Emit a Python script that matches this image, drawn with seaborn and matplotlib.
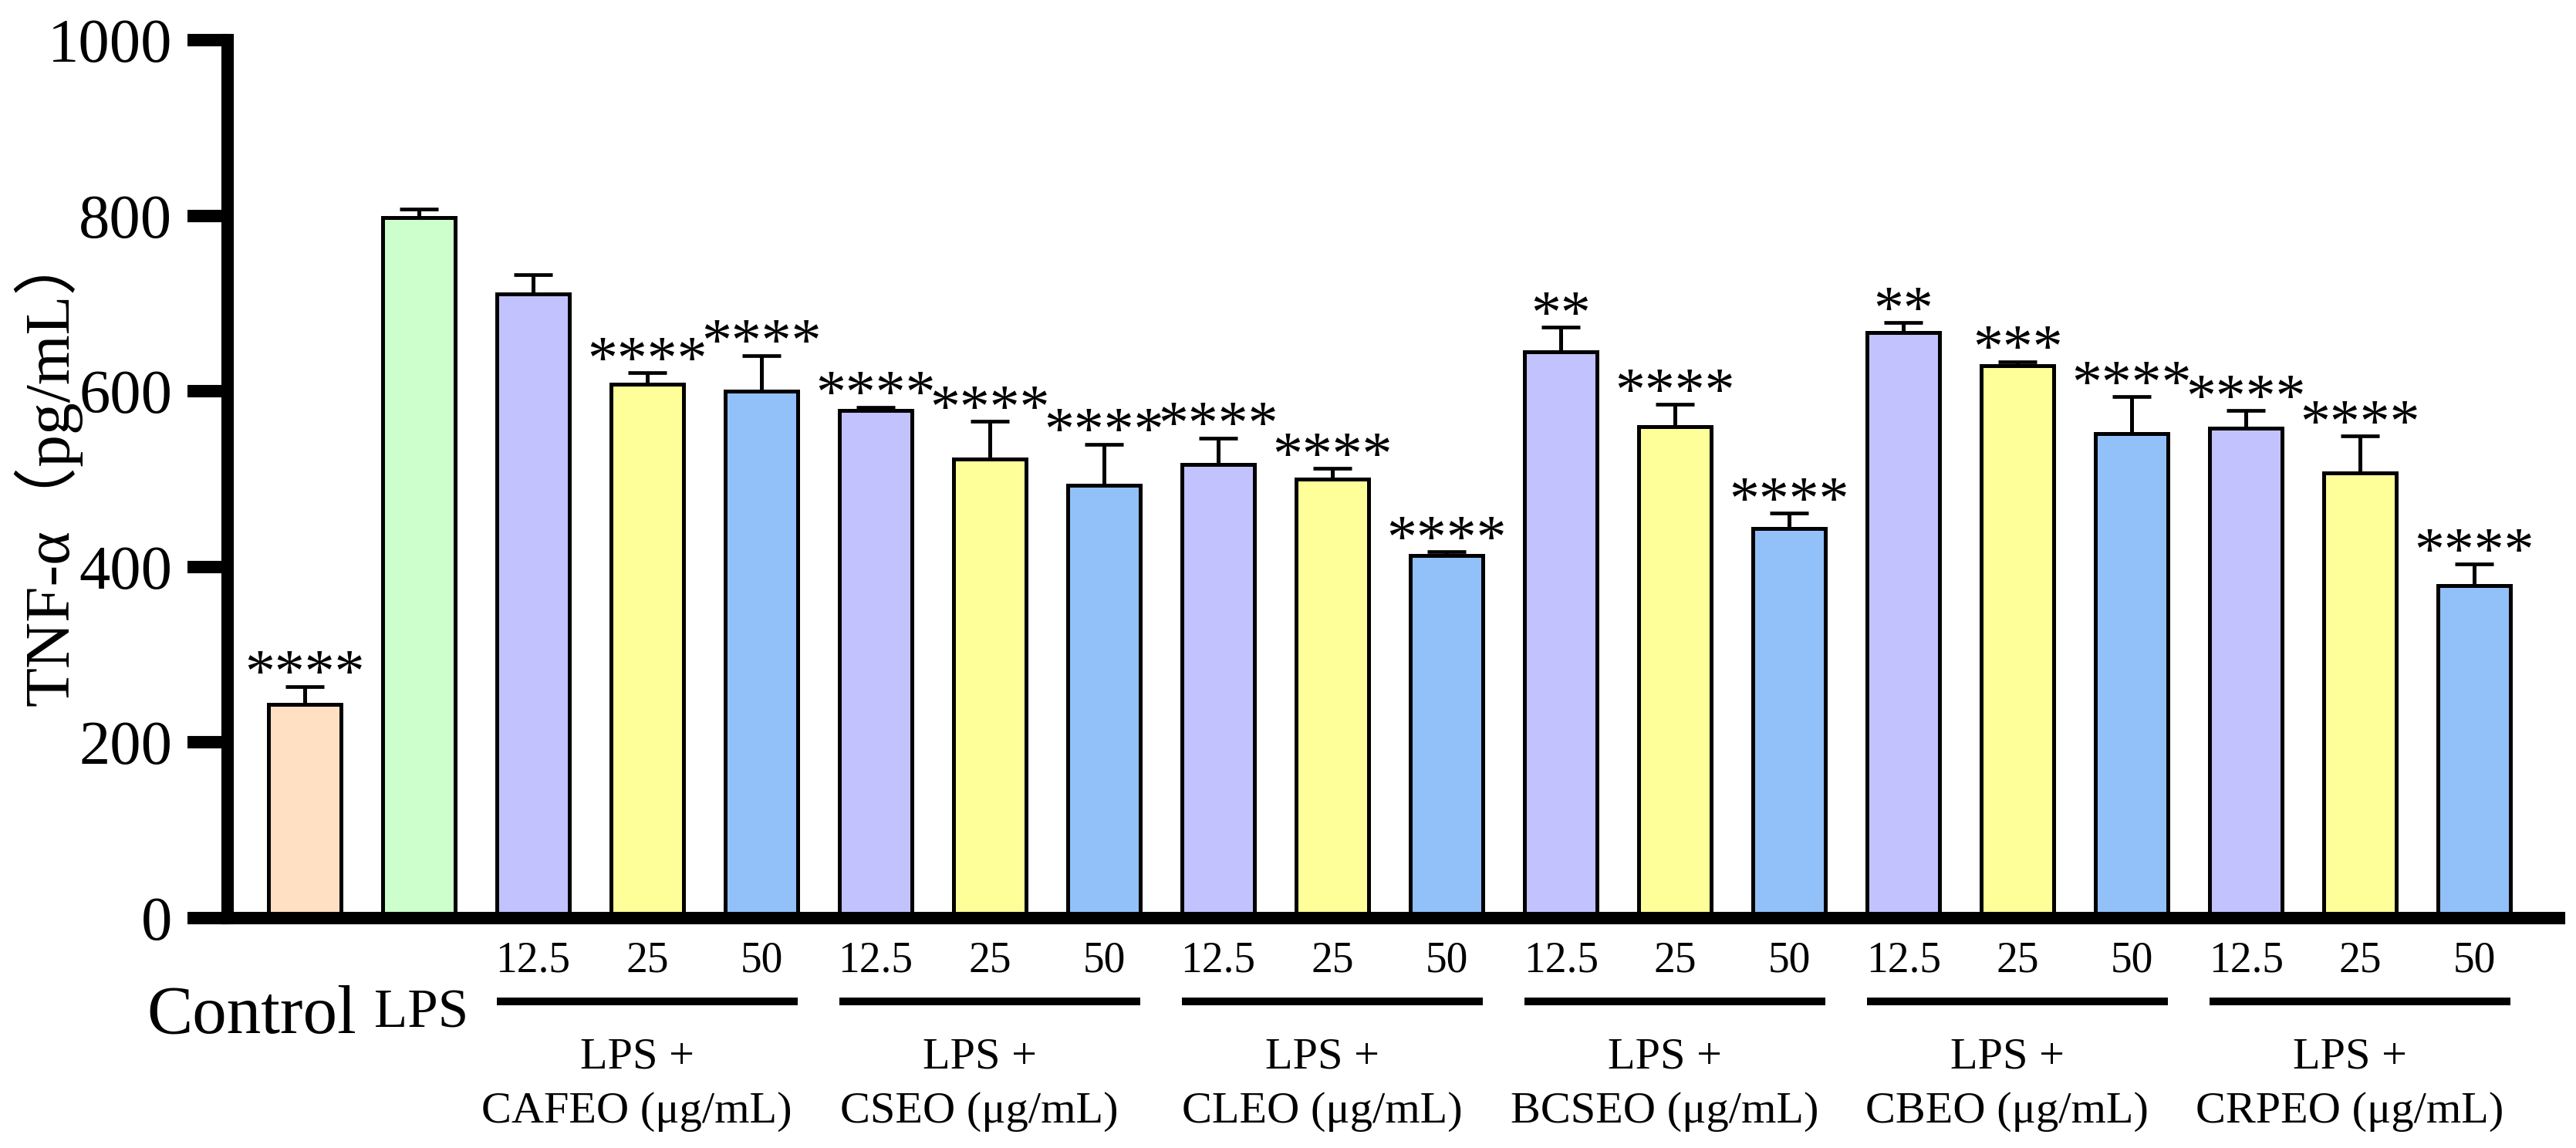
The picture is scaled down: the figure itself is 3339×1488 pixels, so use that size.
import numpy as np
import pandas as pd
import matplotlib
matplotlib.use("Agg")
import matplotlib.pyplot as plt
import seaborn as sns

# data (TNF-alpha, pg/mL, mean + SEM)
oils = ['CAFEO', 'CSEO', 'CLEO', 'BCSEO', 'CBEO', 'CRPEO']
doses = ['12.5', '25', '50']
means = [243, 798,
         711, 608, 600,
         578, 523, 493,
         517, 500, 413,
         645, 560, 444,
         667, 629, 552,
         558, 507, 379]
sems = [21, 10,
        22, 13, 41,
        4, 43, 47,
        30, 12, 4,
        28, 25, 17,
        11, 5, 42,
        20, 42, 24]
stars = ['****', '',
         '', '****', '****',
         '****', '****', '****',
         '****', '****', '****',
         '**', '****', '****',
         '**', '***', '****',
         '****', '****', '****']

dose_colors = ['#C2C2FF', '#FFFF99', '#92C0F8']
colors = ['#FFE0C2', '#CCFFCC'] + dose_colors * len(oils)

labels = ['Control', 'LPS'] + [o + ' ' + d for o in oils for d in doses]
df = pd.DataFrame({'grupo': labels, 'valor': means})

sns.set_style("ticks")
plt.rcParams['font.family'] = ['Liberation Serif', 'DejaVu Serif']
plt.rcParams['axes.edgecolor'] = 'black'
plt.rcParams['ytick.color'] = 'black'
plt.rcParams['xtick.color'] = 'black'
plt.rcParams['text.color'] = 'black'
plt.rcParams['axes.labelcolor'] = 'black'

fig = plt.figure(figsize=(16.695, 7.44), dpi=200)
ax = fig.add_axes([0.0883, 0.2003, 0.9051, 0.7647])

sns.barplot(data=df, x='grupo', y='valor', hue='grupo', palette=colors,
            order=labels, legend=False, width=0.635, edgecolor='black',
            linewidth=1.8, errorbar=None, saturation=1, ax=ax)
for p in ax.patches:
    p.set_zorder(2)

xpos = np.arange(len(labels))
ax.errorbar(xpos, means, yerr=[np.zeros(len(sems)), sems], fmt='none',
            ecolor='black', elinewidth=1.8, capsize=9, capthick=1.7, zorder=1)

# asteriscos acima das barras de erro
for x, m, s, t in zip(xpos, means, sems, stars):
    if t:
        ax.text(x, m + s - 5, t, ha='center', va='baseline', fontsize=28)

ax.set_ylim(0, 1000)
ax.set_xlim(-0.675, 19.74)
ax.set_yticks([0, 200, 400, 600, 800, 1000])
ax.tick_params(axis='y', length=18.7, width=5.8, labelsize=29, pad=7,
               color='black', labelcolor='black')
ax.set_xticks([])
ax.set_xlabel('')
ax.set_ylabel('')

for sp in ['top', 'right']:
    ax.spines[sp].set_visible(False)
for sp in ['left', 'bottom']:
    ax.spines[sp].set_linewidth(5.8)
    ax.spines[sp].set_color('black')

ax.text(-0.077, 0.513, 'TNF-α（pg/mL）', rotation=90, ha='center', va='center',
        fontsize=30, family=['Liberation Serif', 'Noto Sans CJK SC'],
        transform=ax.transAxes)

# textos abaixo do eixo
for i in range(2, len(labels)):
    ax.text(xpos[i], -61.5, doses[(i - 2) % 3], ha='center', va='baseline',
            fontsize=20, clip_on=False)
ax.text(-0.466, -130.8, 'Control', ha='center', va='baseline', fontsize=32, clip_on=False)
ax.text(1.02, -124.7, 'LPS', ha='center', va='baseline', fontsize=25.5, clip_on=False)

for g, oil in enumerate(oils):
    a = 2 + 3 * g
    b = a + 2
    ax.plot([a - 0.317, b + 0.317], [-94.8, -94.8], color='black', lw=3.6,
            solid_capstyle='butt', clip_on=False)
    cx = (a + b) / 2 - 0.09
    ax.text(cx, -171, 'LPS +', ha='center', va='baseline', fontsize=21, clip_on=False)
    ax.text(cx, -232.7, oil + ' (μg/mL)', ha='center', va='baseline', fontsize=21,
            clip_on=False)

fig.savefig('out.png', dpi=200)
